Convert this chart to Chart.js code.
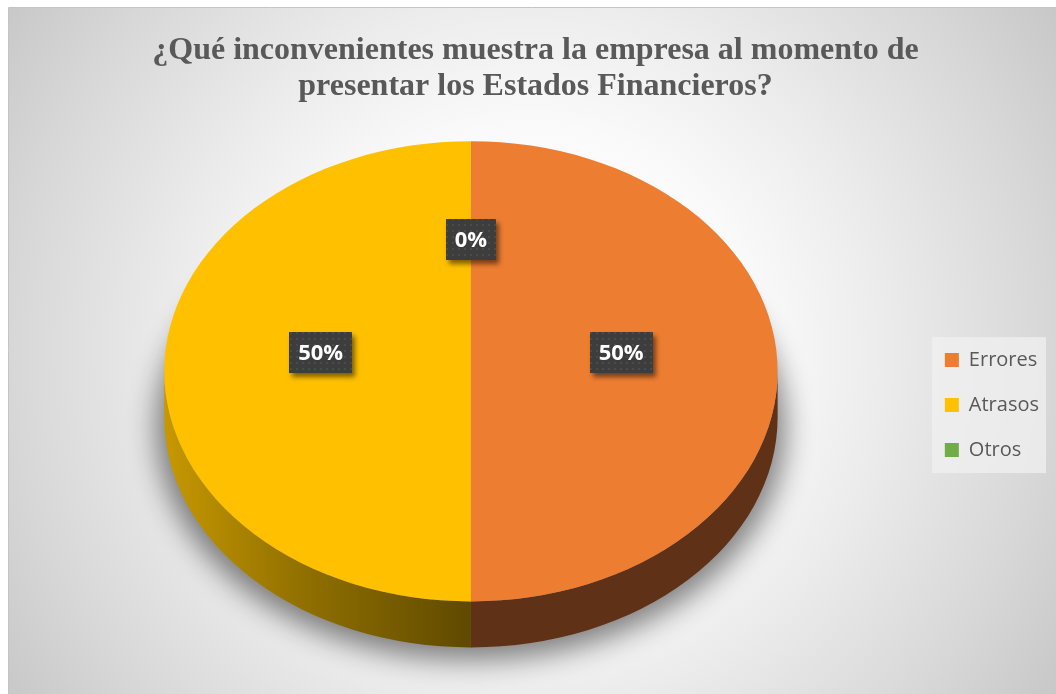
<!DOCTYPE html>
<html>
<head>
<meta charset="utf-8">
<script src="https://cdn.jsdelivr.net/npm/chart.js@4.4.1/dist/chart.umd.min.js"></script>
<style>
  html, body { margin: 0; padding: 0; background: #fff; }
  #wrap { position: relative; width: 1056px; height: 694px; }
</style>
</head>
<body>
<div id="wrap"><canvas id="chart" width="1056" height="694"></canvas></div>
<script>
// data
const categories = ['Errores', 'Atrasos', 'Otros']
const values = [50, 50, 0]
const titleLines = ['¿Qué inconvenientes muestra la empresa al momento de', 'presentar los Estados Financieros?']
const topColors = ['#ED7D31', '#FFC000', '#70AD47']

// 3d look
const SX = 1.066
const SY = 0.8
const HALF_DEPTH = 23
const LABEL_POS = 0.49
const LABEL_LIFT = 19

const total = values.reduce((a, b) => a + b, 0)
const pctLabels = values.map((v) => Math.round((v / total) * 100) + '%')

function geom(chart) {
  const arcs = chart.getDatasetMeta(0).data
  const a = arcs[0]
  return { cx: a.x, cy: a.y, r: a.outerRadius, arcs }
}

// background + legend panel
const backdrop = {
  id: 'backdrop',
  beforeDraw(chart) {
    const { ctx, width, height } = chart
    ctx.save()
    ctx.fillStyle = '#fff'
    ctx.fillRect(0, 0, width, height)
    const g = ctx.createRadialGradient(530, 350, 0, 530, 350, 640)
    g.addColorStop(0, '#ffffff')
    g.addColorStop(0.35, '#fafafa')
    g.addColorStop(0.55, '#ececec')
    g.addColorStop(0.8, '#d8d8d8')
    g.addColorStop(1, '#c6c6c6')
    ctx.fillStyle = g
    ctx.fillRect(9, 8, width - 9, height - 8)
    ctx.strokeStyle = '#c4c4c4'
    ctx.lineWidth = 1
    ctx.beginPath()
    ctx.moveTo(8.5, height)
    ctx.lineTo(8.5, 7.5)
    ctx.lineTo(width, 7.5)
    ctx.stroke()

    const boxes = chart.legend.legendHitBoxes
    if (boxes && boxes.length) {
      const first = boxes[0]
      const last = boxes[boxes.length - 1]
      const x0 = first.left - 13
      const y0 = first.top - 13
      ctx.fillStyle = 'rgba(240,240,240,0.75)'
      ctx.fillRect(x0, y0, 1046 - x0, last.top + last.height + 13 - y0)
    }
    ctx.restore()
  },
}

// side walls + squash of the top face
const pie3d = {
  id: 'pie3d',
  beforeDatasetsDraw(chart) {
    const { ctx, width } = chart
    const { cx, cy, r, arcs } = geom(chart)
    const rx = r * SX
    const ry = r * SY

    // floor shadow: shape drawn off canvas, only its shadow lands here
    const off = width * 2
    ctx.save()
    ctx.shadowColor = 'rgba(0,0,0,0.48)'
    ctx.shadowBlur = 28
    ctx.shadowOffsetX = off
    ctx.shadowOffsetY = 10
    ctx.fillStyle = '#000'
    ctx.beginPath()
    ctx.ellipse(cx - off, cy + HALF_DEPTH, rx + 8, ry + 3, 0, 0, Math.PI * 2)
    ctx.fill()
    ctx.restore()

    arcs.forEach((arc, i) => {
      const a0 = Math.max(arc.startAngle, 0)
      const a1 = Math.min(arc.endAngle, Math.PI)
      if (a1 <= a0) return
      ctx.save()
      let fill
      if (i === 1) {
        fill = ctx.createLinearGradient(cx - rx, 0, cx, 0)
        fill.addColorStop(0, '#c79800')
        fill.addColorStop(0.45, '#917000')
        fill.addColorStop(1, '#5f4900')
      } else if (i === 0) {
        fill = '#5f3116'
      } else {
        fill = '#3d5e27'
      }
      ctx.fillStyle = fill
      ctx.beginPath()
      ctx.ellipse(cx, cy - HALF_DEPTH, rx, ry, 0, a0, a1)
      ctx.ellipse(cx, cy + HALF_DEPTH, rx, ry, 0, a1, a0, true)
      ctx.closePath()
      ctx.fill()
      ctx.restore()
    })

    ctx.save()
    ctx.translate(cx, cy - HALF_DEPTH)
    ctx.scale(SX, SY)
    ctx.translate(-cx, -cy)
  },
  afterDatasetsDraw(chart) {
    const { ctx } = chart
    ctx.restore()
    const { cx, cy, r, arcs } = geom(chart)

    const pc = document.createElement('canvas')
    pc.width = 6
    pc.height = 6
    const p = pc.getContext('2d')
    p.fillStyle = '#3d3d3d'
    p.fillRect(0, 0, 6, 6)
    p.fillStyle = '#4b4b4b'
    p.fillRect(2, 2, 2, 2)
    const pattern = ctx.createPattern(pc, 'repeat')

    ctx.save()
    ctx.font = 'bold 22px "Open Sans"'
    ctx.textAlign = 'center'
    ctx.textBaseline = 'middle'
    arcs.forEach((arc, i) => {
      const mid = (arc.startAngle + arc.endAngle) / 2
      const x = cx + Math.cos(mid) * r * LABEL_POS * SX
      const y = cy - HALF_DEPTH + Math.sin(mid) * r * LABEL_POS * SY - LABEL_LIFT
      const txt = pctLabels[i]
      const w = ctx.measureText(txt).width + 18
      const h = 41
      ctx.save()
      ctx.shadowColor = 'rgba(0,0,0,0.5)'
      ctx.shadowBlur = 5
      ctx.shadowOffsetX = 3
      ctx.shadowOffsetY = 4
      ctx.fillStyle = pattern
      ctx.fillRect(Math.round(x - w / 2), Math.round(y - h / 2), Math.round(w), h)
      ctx.restore()
      ctx.fillStyle = '#ffffff'
      ctx.fillText(txt, x, y + 1)
    })
    ctx.restore()
  },
}

const data = {
  labels: categories,
  datasets: [
    {
      data: values,
      backgroundColor: topColors,
      borderWidth: 0,
    },
  ],
}

const config = {
  type: 'pie',
  data: data,
  options: {
    responsive: false,
    animation: false,
    events: [],
    layout: { padding: { left: 22, right: 7, top: 10, bottom: 12 } },
    plugins: {
      title: {
        display: true,
        text: titleLines,
        color: '#595959',
        font: { family: '"Liberation Serif", "Times New Roman", serif', size: 32, weight: 'bold', lineHeight: 1.15 },
        padding: { top: 22, bottom: 1 },
      },
      legend: {
        position: 'right',
        // empty title only pushes the entries down to the middle of the pie
        title: { display: true, text: ' ', font: { size: 1 }, padding: { top: 0, bottom: 117 } },
        labels: {
          boxWidth: 14,
          boxHeight: 14,
          padding: 25,
          color: '#595959',
          font: { family: '"Open Sans"', size: 20 },
        },
      },
      tooltip: { enabled: false },
    },
  },
  plugins: [backdrop, pie3d],
}

const myChart = new Chart(document.getElementById('chart'), config)
</script>
</body>
</html>
